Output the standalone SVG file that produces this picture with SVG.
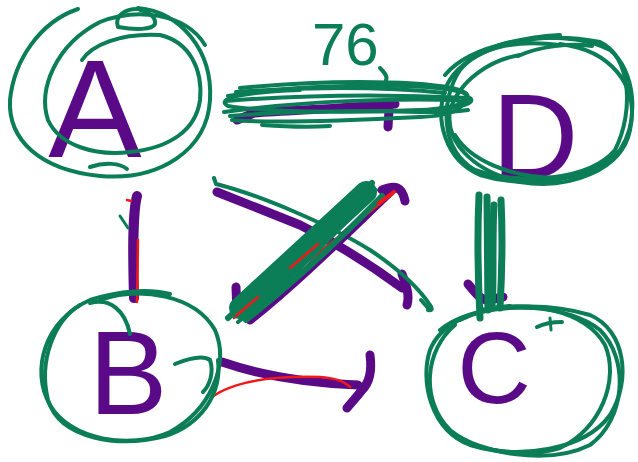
<svg xmlns="http://www.w3.org/2000/svg" width="638" height="462" viewBox="0 0 638 462">
<style>
.g{fill:none;stroke:#0b7d57;stroke-width:4;stroke-linecap:round;stroke-linejoin:round}
.gt{fill:none;stroke:#0b7d57;stroke-width:7;stroke-linecap:round;stroke-linejoin:round}
.p{fill:none;stroke:#5a0a87;stroke-width:9;stroke-linecap:round;stroke-linejoin:round}
.r{fill:none;stroke:#f01818;stroke-width:2.5;stroke-linecap:round;stroke-linejoin:round}
.lbl{font-family:"Liberation Sans",Arial,sans-serif;fill:#5a0a87}
.num{font-family:"Liberation Sans",Arial,sans-serif;fill:#0b7d57}
</style>
<rect width="638" height="462" fill="#ffffff"/>
<g id="connectors">
  <g id="edge-A-D">
    <path class="p" d="M237,120 L254,113 C300,110 350,108 395,104"/>
    <path class="p" d="M389,110 L388,127"/>
    <path class="g" d="M228,96 C300,84 420,82 462,92 C478,100 460,108 420,110 C350,113 260,112 228,106 C215,99 240,92 300,90"/>
    <path class="g" d="M224,112 C300,101 400,98 455,100 C472,104 455,116 420,117 C340,121 262,123 232,120"/>
    <path class="g" d="M240,88 C320,80 410,80 452,88 C470,92 472,98 460,102"/>
    <path class="g" d="M226,101 C300,95 390,94 470,98 C476,103 460,108 440,108"/>
    <path class="g" d="M230,116 C280,112 330,111 380,111 C420,112 450,113 468,110"/>
    <path class="g" d="M236,92 C300,87 380,86 445,93"/>
    <path class="g" d="M262,125 C290,127 315,127 330,126"/>
    <text class="num" x="312" y="65" font-size="60">76</text>
    <path class="g" d="M380,68 C384,72 388,76 386,80"/>
  </g>
  <g id="edge-A-B">
    <path class="p" style="stroke-width:10" d="M137,196 C132,215 133,260 134,298"/>
    <path class="g" style="stroke-width:3" d="M120,216 L128,228"/>
    <path class="r" d="M138,240 L137,302"/>
    <path class="r" d="M127,200 L131,201"/>
  </g>
  <g id="edge-A-C">
    <path class="p" d="M217,192 L300,225 C340,245 375,268 402,288"/>
    <path class="p" d="M402,274 C406,285 410,295 407,305"/>
    <path class="g" d="M214,178 L216,184 C260,195 330,225 370,250 C400,270 420,290 430,305 C433,309 432,311 428,310"/>
  </g>
  <g id="edge-B-D">
    <path class="p" d="M250,320 C300,280 350,230 390,192"/>
    <path class="p" d="M382,190 C395,185 402,186 405,201"/>
    <path class="p" d="M236,287 L237,313"/>
    <path class="r" d="M234,318 C280,285 340,235 395,192"/>
    <path class="g" style="stroke-width:22" d="M240,308 L366,192"/>
    <path class="g" style="stroke-width:6" d="M228,318 C270,280 330,220 372,183"/>
    <path class="g" style="stroke-width:6" d="M246,320 C290,285 340,240 382,196"/>
    <path class="g" style="stroke-width:5" d="M233,306 C280,262 330,215 360,186"/>
    <path class="g" style="stroke-width:4" d="M238,322 C280,290 330,240 376,190"/>
    <path class="r" d="M236,316 L258,297"/>
    <path class="r" d="M290,268 L318,244"/>
    <path class="r" d="M378,203 L394,191"/>
  </g>
  <g id="edge-B-C">
    <path class="p" d="M222,362 C260,375 310,383 358,385"/>
    <path class="p" d="M370,355 C372,370 370,382 362,390 C356,398 351,403 347,408"/>
    <path class="r" d="M212,397 C235,380 280,376 320,377 C335,378 345,382 350,387"/>
  </g>
  <g id="edge-D-C">
    <path class="p" d="M468,284 C475,292 480,300 488,300 L503,297"/>
    <path class="gt" d="M479,195 C477,240 478,280 480,318"/>
    <path class="gt" d="M487,197 L488,310"/>
    <path class="gt" d="M494,205 C492,240 494,290 492,305"/>
    <path class="gt" d="M501,200 C503,240 501,290 500,308"/>
  </g>
</g>
<g id="node-A">
  <text class="lbl" x="95" y="157" font-size="140" text-anchor="middle">A</text>
  <path class="g" d="M78,9 C40,22 14,60 10,100 C8,140 40,170 100,176 C160,181 207,150 210,100 C213,50 180,12 138,8"/>
  <path class="g" d="M140,9 C125,8 114,16 118,27 C135,30 152,30 155,24 C156,18 150,12 140,10"/>
  <path class="g" d="M82,60 C92,45 120,33 160,35 C190,42 203,70 200,100 C196,130 170,148 130,152 C95,156 60,146 48,120 C38,90 55,45 100,22 C135,8 185,12 205,45"/>
  <path class="g" d="M90,167 C105,162 120,163 127,169"/>
</g>
<g id="node-D">
  <text class="lbl" x="535" y="178" font-size="120" text-anchor="middle">D</text>
  <path class="g" d="M470,60 C500,35 570,30 610,50 C635,70 640,120 620,150 C595,180 530,190 480,175 C445,160 435,120 445,90 C455,60 500,38 560,35"/>
  <path class="g" d="M445,75 C470,45 540,30 600,42 C630,55 635,110 615,150 C590,180 520,186 475,170 C440,150 440,100 460,70 C480,45 520,40 560,45"/>
  <path class="g" d="M520,55 C490,60 460,80 450,110 C445,140 470,170 520,182 C570,190 622,170 630,130 C640,85 610,50 560,44"/>
  <path class="g" d="M518,56 C540,46 570,43 592,46"/>
  <path class="g" d="M455,135 C470,160 510,178 560,178"/>
</g>
<g id="node-B">
  <text class="lbl" x="128" y="414" font-size="118" text-anchor="middle">B</text>
  <path class="g" d="M100,300 C140,286 195,295 215,330 C230,365 210,410 170,432 C130,450 70,440 50,405 C30,370 45,320 90,300 C120,290 150,289 170,294"/>
  <path class="g" d="M80,305 C55,320 38,360 48,400 C60,440 120,448 165,436 C200,425 222,395 218,360"/>
  <path class="g" d="M90,303 C110,298 125,310 130,334"/>
  <path class="g" d="M175,364 C190,358 203,355 210,360 C214,372 210,385 203,392"/>
</g>
<g id="node-C">
  <text class="lbl" x="494" y="403" font-size="102" text-anchor="middle">C</text>
  <path class="g" d="M440,330 C470,305 540,300 590,315 C625,330 632,380 610,415 C585,450 520,460 470,445 C430,430 420,380 430,350 C440,325 470,310 510,306"/>
  <path class="g" d="M460,320 C500,300 570,305 600,330 C630,360 625,420 590,445 C550,465 480,455 450,430 C420,400 425,350 455,325"/>
  <path class="g" d="M480,310 C530,300 585,310 605,345 C620,380 600,430 560,448 C520,460 460,450 440,420"/>
  <path class="g" d="M537,327 C545,323 555,322 562,322"/>
  <path class="g" style="stroke-width:3" d="M550,318 L551,330"/>
  <path class="g" d="M421,300 L428,308"/>
</g>
</svg>
